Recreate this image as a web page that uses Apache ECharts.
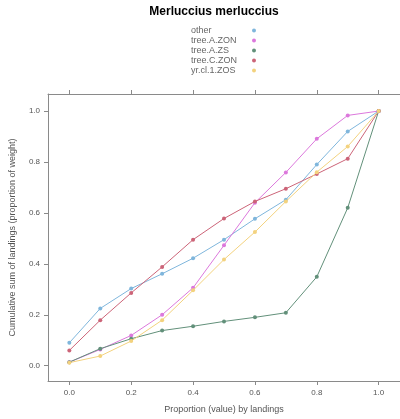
<!DOCTYPE html>
<html><head><meta charset="utf-8">
<script src="https://cdn.jsdelivr.net/npm/echarts@6/dist/echarts.min.js"></script>
<style>html,body{margin:0;padding:0;background:#fff}#c{width:400px;height:419px}</style>
</head><body><div id="c"></div>
<script>
const xValues = [0, 0.1, 0.2, 0.3, 0.4, 0.5, 0.6, 0.7, 0.8, 0.9, 1.0];
const seriesNames = ["other", "tree.A.ZON", "tree.A.ZS", "tree.C.ZON", "yr.cl.1.ZOS"];
const other     = [0.09, 0.225, 0.303, 0.361, 0.422, 0.495, 0.577, 0.652, 0.790, 0.920, 1.0];
const treeAZON  = [0.014, 0.064, 0.119, 0.200, 0.306, 0.473, 0.640, 0.759, 0.891, 0.983, 1.0];
const treeAZS   = [0.014, 0.067, 0.106, 0.138, 0.155, 0.174, 0.190, 0.208, 0.349, 0.620, 1.0];
const treeCZON  = [0.060, 0.179, 0.286, 0.388, 0.495, 0.578, 0.645, 0.695, 0.753, 0.813, 1.0];
const yrcl1ZOS  = [0.012, 0.038, 0.097, 0.179, 0.296, 0.417, 0.525, 0.645, 0.760, 0.861, 1.0];
const xTicks = [0, 0.2, 0.4, 0.6, 0.8, 1.0];
const yTicks = [0, 0.2, 0.4, 0.6, 0.8, 1.0];
const colors = ["#7fb6dc", "#dc78dc", "#62907a", "#cc6478", "#f3d27e"];
const allData = [other, treeAZON, treeAZS, treeCZON, yrcl1ZOS];

const font = "Liberation Sans, Arial, sans-serif";
const axisCol = "#8a8a8a";
const chart = echarts.init(document.getElementById('c'), null, {renderer: 'canvas'});
const fmt = v => v.toFixed(1);
const baseAxis = {
  type: 'value',
  splitLine: {show: false},
  axisLine: {show: true, onZero: false, lineStyle: {color: axisCol, width: 1}},
  axisTick: {show: true, inside: false, length: 4, lineStyle: {color: axisCol}},
};
chart.setOption({
  animation: false,
  color: colors,
  title: {
    text: "Merluccius merluccius", left: 214, top: 6, textAlign: 'center', padding: 0,
    textStyle: {fontFamily: font, fontWeight: 'bold', fontSize: 12, color: '#000'}
  },
  legend: {
    orient: 'vertical', left: 191, top: 26, align: 'right', padding: 0,
    itemWidth: 4, itemHeight: 4, itemGap: 1, icon: 'circle',
    formatter: n => '{a|' + n + '}',
    textStyle: {fontFamily: font, fontSize: 9, color: '#666', lineHeight: 9, padding: 0,
      rich: {a: {width: 56, align: 'left', fontFamily: font, fontSize: 9, color: '#666', lineHeight: 9}}},
    data: seriesNames
  },
  grid: {left: 47, top: 94, width: 355, height: 287.5, containLabel: false},
  xAxis: [
    Object.assign({}, baseAxis, {
      position: 'bottom', min: -0.069, max: 1.069,
      axisTick: Object.assign({}, baseAxis.axisTick, {customValues: xTicks}),
      axisLabel: {customValues: xTicks, formatter: fmt, fontFamily: font, fontSize: 8, color: '#555', margin: 8},
      name: "Proportion (value) by landings", nameLocation: 'middle', nameGap: 24,
      nameTextStyle: {fontFamily: font, fontSize: 9, color: '#555'}
    }),
    Object.assign({}, baseAxis, {
      position: 'top', min: -0.069, max: 1.069,
      axisTick: Object.assign({}, baseAxis.axisTick, {customValues: xTicks}),
      axisLabel: {show: false}
    })
  ],
  yAxis: [
    Object.assign({}, baseAxis, {
      position: 'left', min: -0.060, max: 1.067,
      axisTick: Object.assign({}, baseAxis.axisTick, {customValues: yTicks}),
      axisLabel: {customValues: yTicks, formatter: fmt, fontFamily: font, fontSize: 8, color: '#555', margin: 8},
      name: "Cumulative sum of landings (proportion of weight)", nameLocation: 'middle', nameGap: 31,
      nameTextStyle: {fontFamily: font, fontSize: 9, color: '#555'}
    }),
    Object.assign({}, baseAxis, {
      position: 'right', min: -0.060, max: 1.067,
      axisTick: Object.assign({}, baseAxis.axisTick, {customValues: yTicks}),
      axisLabel: {show: false}
    })
  ],
  series: seriesNames.map((n, i) => ({
    name: n, type: 'line', xAxisIndex: 0, yAxisIndex: 0,
    data: xValues.map((x, j) => [x, allData[i][j]]),
    symbol: 'circle', symbolSize: 4, showSymbol: true,
    lineStyle: {width: 1, color: colors[i]},
    itemStyle: {color: colors[i]},
    z: 2 + i
  }))
});
</script></body></html>
